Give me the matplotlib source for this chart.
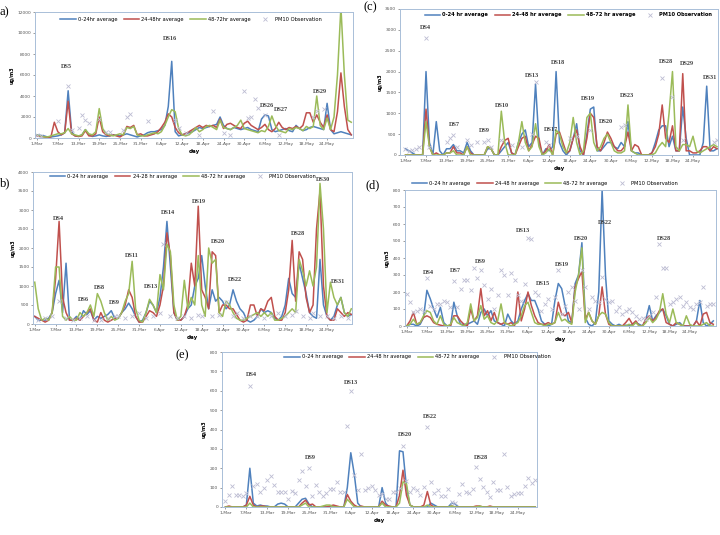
import numpy as np
import matplotlib
matplotlib.use("Agg")
import matplotlib.pyplot as plt

nan = np.nan

tick_pos = list(range(0, 85, 6))
tick_labels = ["1-Mar", "7-Mar", "13-Mar", "19-Mar", "25-Mar", "31-Mar", "6-Apr", "12-Apr",
               "18-Apr", "24-Apr", "30-Apr", "6-May", "12-May", "18-May", "24-May"]

# ---------------- panel a ----------------
blue_a = [300, 250, 200, 100, 100, 150, 200, 300, 500, 4500,
          600, 200, 150, 300, 800, 300, 150, 200, 300, 200,
          150, 200, 300, 250, 200, 300, 400, 300, 200, 100,
          200, 300, 500, 600, 600, 700, 800, 1200, 3000, 7300,
          600, 200, 300, 400, 500, 600, 800, 1000, 900, 1000,
          1100, 1200, 1300, 2000, 1200, 900, 800, 1000, 900, 800,
          900, 1000, 800, 700, 600, 1800, 2200, 2100, 800, 600,
          700, 800, 900, 700, 600, 1200, 900, 700, 800, 1000,
          1100, 1000, 900, 800, 3300, 800, 400, 500, 600, 500,
          400, 300]
red_a = [200, 150, 100, 50, 100, 1500, 600, 300, 500, 3500,
         400, 200, 150, 200, 700, 200, 200, 400, 2000, 600,
         300, 200, 300, 200, 100, 300, 1100, 1000, 1200, 300,
         400, 200, 200, 300, 400, 600, 1000, 1500, 2300, 2000,
         1000, 500, 300, 400, 600, 800, 1000, 1200, 1000, 1200,
         1100, 1200, 1000, 1800, 900, 1300, 1400, 1200, 1000, 900,
         1400, 1600, 1200, 1000, 800, 1000, 1300, 800, 600, 900,
         1500, 1000, 800, 1000, 900, 1100, 900, 1200, 2400, 2400,
         1500, 2200, 1500, 1000, 2200, 800, 600, 2500, 6200, 3000,
         800, 300]
green_a = [300, 200, 100, 100, 200, 300, 400, 400, 500, 900,
           400, 300, 200, 300, 800, 400, 300, 600, 2800, 900,
           400, 300, 200, 300, 400, 300, 1000, 900, 1100, 300,
           200, 200, 300, 400, 500, 400, 600, 1200, 2000, 2700,
           2500, 900, 300, 200, 300, 600, 1000, 600, 800, 1100,
           1200, 1000, 800, 1700, 1000, 900, 800, 1000, 1200, 1700,
           900, 800, 700, 600, 500, 700, 600, 1100, 2100, 1200,
           700, 600, 500, 900, 800, 1000, 900, 700, 1100, 900,
           1100, 4000, 1200, 800, 1900, 800, 2000, 6000, 12500, 6000,
           1700, 1500]
obs_a = [300, 200, nan, nan, nan, nan, 1600, nan, nan, 5000,
         800, nan, 1000, 2200, 1700, 1400, nan, nan, 1800, nan,
         600, 600, nan, nan, nan, 800, 2000, 2300, nan, nan,
         nan, nan, 1600, nan, nan, nan, nan, nan, nan, nan,
         1700, 1000, nan, 500, nan, nan, nan, 300, nan, nan,
         nan, 2600, nan, nan, 500, nan, 300, nan, nan, nan,
         4500, 1900, 2000, 3700, 2900, nan, 2200, nan, nan, nan,
         300, nan, nan, nan, nan, nan, nan, nan, nan, nan,
         2000, 2600, nan, 2800, nan, nan, nan, nan, nan, nan,
         nan, nan]
ds_a = [("DS5", 8.5, 6800), ("DS16", 38.5, 9500), ("DS26", 66.5, 3100),
        ("DS27", 70.5, 2750), ("DS29", 82, 4400)]

# ---------------- panel b ----------------
blue_b = [200, 100, 100, 100, 150, 300, 800, 1150, 300, 1600,
          100, 100, 200, 100, 350, 250, 350, 100, 200, 150,
          200, 250, 350, 150, 150, 300, 400, 550, 400, 200,
          50, 100, 300, 600, 500, 300, 700, 1500, 2700, 1500,
          300, 100, 100, 200, 400, 500, 1000, 1200, 1800, 1000,
          400, 900, 600, 700, 600, 400, 500, 900, 600, 400,
          300, 100, 50, 100, 200, 400, 300, 350, 300, 150,
          100, 200, 500, 1200, 800, 700, 1600, 1200, 800, 300,
          200, 150, 1700, 500, 200, 100, 200, 500, 700, 300,
          200, 250]
red_b = [200, 150, 100, 50, 100, 300, 1200, 2700, 700, 300,
         100, 100, 150, 100, 200, 300, 400, 100, 50, 300,
         100, 50, 100, 150, 150, 300, 500, 900, 700, 200,
         50, 50, 200, 350, 300, 200, 500, 1000, 2400, 1800,
         300, 100, 100, 200, 500, 1600, 1000, 3100, 900, 700,
         400, 1900, 1800, 300, 500, 500, 400, 400, 250, 100,
         50, 100, 500, 500, 200, 400, 350, 600, 700, 200,
         100, 100, 300, 900, 2200, 600, 1900, 1700, 700, 300,
         500, 2500, 3500, 1000, 200, 100, 100, 400, 300, 200,
         300, 250]
green_b = [1100, 400, 100, 150, 100, 300, 1500, 1500, 200, 100,
           200, 100, 100, 300, 200, 300, 500, 200, 800, 600,
           300, 100, 200, 100, 150, 300, 600, 800, 1650, 400,
           100, 50, 300, 650, 500, 300, 1300, 900, 2100, 1900,
           500, 100, 200, 1150, 400, 700, 500, 1800, 500, 200,
           2000, 1600, 1700, 300, 200, 600, 500, 300, 150, 100,
           100, 150, 200, 250, 300, 200, 300, 200, 300, 100,
           100, 150, 200, 300, 400, 300, 1700, 1400, 1000, 1400,
           1000, 1500, 3700, 2500, 300, 1100, 700, 500, 700, 300,
           200, 400]
obs_b = [nan, 100, nan, 150, nan, 200, nan, 600, nan, 150,
         nan, 100, nan, 150, nan, 200, nan, 100, nan, 100,
         nan, 150, nan, 200, 200, nan, 150, nan, 200, nan,
         300, nan, 150, nan, 200, nan, 300, 2100, nan, 200,
         nan, 150, nan, 200, nan, 150, nan, 250, 200, nan,
         nan, 200, nan, 250, nan, 590, nan, 200, 300, nan,
         150, nan, 200, nan, 200, nan, 150, nan, 200, nan,
         300, nan, 200, nan, 250, 350, nan, 200, nan, 150,
         300, nan, 200, nan, 200, nan, 150, nan, 200, nan,
         150, nan]
ds_b = [("DS4", 6.7, 2780), ("DS6", 14, 650), ("DS8", 18.5, 960), ("DS9", 22.8, 560),
        ("DS11", 28, 1790), ("DS13", 33.3, 980), ("DS14", 38.4, 2930), ("DS19", 47.2, 3220),
        ("DS20", 52.8, 2170), ("DS22", 57.7, 1160), ("DS28", 75.8, 2390), ("DS30", 82.8, 3810),
        ("DS31", 87.2, 1110)]

# ---------------- panel c ----------------
blue_c = [150, 100, 50, 0, 0, 0, 2000, 300, 0, 800,
          100, 0, 150, 150, 250, 100, 100, 50, 300, 100,
          0, 0, 0, 0, 150, 150, 0, 0, 100, 200,
          300, 50, 0, 300, 500, 600, 200, 300, 1700, 300,
          0, 150, 100, 200, 2000, 300, 100, 0, 100, 400,
          750, 100, 0, 500, 1100, 1150, 100, 100, 200, 300,
          300, 200, 150, 300, 200, 800, 100, 50, 50, 0,
          0, 0, 50, 300, 600, 700, 700, 200, 450, 100,
          100, 1150, 400, 0, 0, 0, 0, 300, 1650, 100,
          100, 150]
red_c = [0, 0, 0, 0, 0, 0, 1100, 200, 0, 50,
         0, 0, 50, 50, 200, 50, 50, 0, 200, 50,
         0, 0, 0, 0, 200, 150, 0, 0, 200, 350,
         400, 50, 0, 200, 400, 450, 100, 250, 450, 400,
         0, 100, 250, 0, 500, 550, 300, 50, 100, 400,
         600, 200, 0, 400, 1000, 900, 200, 100, 300, 550,
         400, 200, 100, 100, 200, 550, 100, 250, 200, 0,
         0, 0, 50, 200, 500, 1200, 400, 300, 700, 100,
         100, 1950, 100, 100, 50, 50, 100, 200, 200, 100,
         200, 150]
green_c = [0, 0, 0, 0, 0, 0, 800, 200, 0, 0,
           0, 0, 50, 50, 100, 0, 0, 0, 200, 0,
           0, 0, 0, 0, 200, 150, 0, 0, 1050, 300,
           0, 0, 0, 300, 800, 300, 100, 200, 750, 200,
           0, 50, 150, 0, 600, 500, 200, 50, 300, 900,
           300, 0, 100, 900, 1000, 300, 100, 200, 400, 500,
           300, 100, 50, 50, 100, 1200, 100, 50, 0, 0,
           0, 0, 0, 50, 200, 300, 200, 1000, 2000, 200,
           100, 250, 250, 200, 450, 100, 50, 100, 150, 200,
           250, 200]
obs_c = [150, 100, 120, 150, 180, nan, 2800, 200, nan, nan,
         nan, nan, 300, 400, 480, 200, nan, nan, 350, 250,
         nan, 300, nan, 300, 350, 200, nan, nan, 350, nan,
         nan, 250, nan, nan, 200, nan, nan, 500, 1750, nan,
         nan, 300, 250, nan, nan, nan, nan, nan, 400, nan,
         450, nan, nan, nan, 600, nan, nan, nan, nan, nan,
         nan, nan, nan, 680, 720, nan, nan, nan, nan, nan,
         nan, nan, nan, nan, nan, 1840, nan, nan, 1400, nan,
         nan, 350, nan, nan, nan, nan, nan, nan, nan, nan,
         300, 350]
ds_c = [("DS4", 5.8, 3050), ("DS7", 14.2, 720), ("DS9", 23.2, 580), ("DS10", 28.3, 1190),
        ("DS13", 37.1, 1900), ("DS17", 42.5, 620), ("DS18", 44.6, 2220), ("DS19", 53.3, 1350),
        ("DS20", 58.6, 800), ("DS23", 64.7, 1420), ("DS28", 76.2, 2240), ("DS29", 82.3, 2200),
        ("DS31", 88.9, 1860)]

# ---------------- panel d ----------------
blue_d = [0, 10, 10, 0, 10, 50, 210, 160, 100, 50,
          110, 20, 0, 0, 140, 60, 10, 10, 10, 20,
          30, 10, 80, 100, 60, 90, 30, 20, 10, 0,
          70, 30, 10, 30, 100, 150, 190, 150, 150, 100,
          30, 10, 0, 10, 150, 250, 220, 120, 30, 20,
          250, 300, 490, 50, 10, 0, 20, 200, 800, 300,
          30, 10, 0, 10, 0, 5, 0, 10, 20, 10,
          0, 40, 120, 30, 60, 80, 100, 60, 10, 0,
          10, 20, 0, 0, 0, 0, 30, 150, 20, 0,
          10, 30]
red_d = [0, 30, 80, 10, 20, 50, 60, 50, 20, 10,
         5, 0, 0, 0, 60, 60, 30, 10, 0, 100,
         30, 60, 220, 60, 90, 30, 80, 20, 10, 20,
         10, 20, 0, 200, 30, 100, 200, 120, 60, 20,
         10, 10, 20, 10, 20, 140, 70, 60, 80, 20,
         230, 280, 320, 40, 80, 30, 10, 60, 230, 70,
         10, 0, 0, 0, 0, 20, 45, 10, 30, 0,
         0, 40, 60, 30, 50, 90, 100, 20, 10, 0,
         20, 10, 0, 0, 0, 0, 30, 0, 70, 80,
         20, 10]
green_d = [0, 10, 40, 10, 20, 60, 90, 80, 30, 10,
           60, 10, 0, 10, 50, 20, 10, 0, 20, 130,
           30, 50, 120, 40, 60, 20, 10, 30, 130, 20,
           10, 0, 10, 20, 60, 120, 140, 80, 20, 10,
           10, 0, 10, 10, 20, 80, 30, 40, 20, 10,
           200, 300, 460, 20, 80, 30, 10, 60, 80, 70,
           20, 0, 0, 0, 0, 0, 10, 0, 20, 0,
           0, 20, 50, 20, 40, 80, 190, 70, 20, 100,
           20, 10, 0, 60, 10, 0, 0, 0, 10, 20,
           0, 0]
obs_d = [190, 140, 80, 90, 100, 90, 280, 120, 100, 130,
         130, 150, 140, 110, 265, 110, 215, 270, 270, 210,
         340, 280, 330, 240, 160, 220, 100, 180, 330, 300,
         180, 310, 270, 180, 150, 250, 520, 510, 200, 180,
         90, 130, 160, 100, 170, 330, 70, 120, 200, 230,
         150, 100, 330, 230, 100, 170, 150, 140, 290, 160,
         140, 150, 90, 110, 70, 90, 100, 80, 60, 40,
         50, 40, 60, 80, 170, 480, 340, 340, 130, 140,
         160, 170, 120, 140, 110, 100, 130, 140, 230, 120,
         130, 130]
ds_d = [("DS4", 6.5, 315), ("DS7", 14.5, 328), ("DS9", 22, 377), ("DS13", 34.5, 564),
        ("DS15", 40.3, 250), ("DS19", 46, 363), ("DS20", 51.6, 515), ("DS22", 58.8, 609),
        ("DS28", 76.3, 515)]

# ---------------- panel e ----------------
blue_e = [0, 0, 0, 0, 0, 0, 10, 200, 20, 5,
          10, 5, 5, 0, 0, 15, 20, 15, 0, 0,
          0, 20, 40, 45, 15, 0, 0, 0, 0, 0,
          0, 0, 0, 0, 0, 100, 280, 170, 20, 0,
          0, 0, 0, 0, 0, 100, 20, 0, 0, 0,
          290, 285, 100, 10, 0, 0, 0, 0, 0, 20,
          10, 0, 0, 0, 0, 20, 15, 0, 0, 0,
          0, 0, 0, 0, 0, 0, 0, 0, 0, 0,
          0, 0, 0, 0, 0, 0, 0, 0, 0, 0]
red_e = [0, 5, 0, 0, 0, 0, 10, 55, 10, 0,
         5, 5, 0, 0, 0, 0, 0, 0, 0, 0,
         0, 0, 20, 35, 10, 15, 0, 0, 0, 0,
         5, 10, 5, 0, 0, 65, 30, 10, 0, 5,
         0, 0, 0, 0, 0, 30, 10, 5, 0, 0,
         60, 190, 60, 10, 0, 0, 0, 10, 80, 10,
         0, 0, 0, 0, 0, 5, 0, 0, 0, 0,
         0, 0, 5, 5, 0, 0, 5, 0, 0, 0,
         0, 0, 0, 0, 0, 0, 0, 0, 0, 0]
green_e = [0, 0, 0, 0, 0, 0, 0, 20, 0, 0,
           0, 0, 0, 0, 0, 0, 0, 0, 0, 0,
           0, 0, 10, 20, 0, 0, 0, 0, 5, 10,
           10, 0, 0, 0, 0, 40, 20, 0, 0, 0,
           0, 0, 0, 0, 0, 20, 0, 0, 0, 0,
           20, 130, 120, 10, 0, 0, 0, 0, 10, 0,
           0, 0, 0, 0, 0, 5, 0, 0, 0, 0,
           0, 0, 0, 5, 0, 0, 0, 0, 0, 0,
           0, 0, 0, 0, 0, 0, 0, 0, 0, 0]
obs_e = [30, 60, 110, 60, 60, 55, 70, 625, 110, 120,
         80, 100, 140, 160, 115, 80, 80, 80, 40, 85,
         70, 140, 185, 110, 200, 55, 115, 80, 55, 70,
         95, 95, 130, 80, 80, 420, 600, 165, 90, 275,
         90, 100, 110, 90, 60, 65, 40, 40, 80, 75,
         100, 315, 135, 75, 100, 90, 60, 105, 415, 130,
         70, 90, 55, 55, 95, 25, 20, 65, 120, 80,
         70, 95, 205, 145, 105, 80, 50, 130, 90, 90,
         275, 105, 55, 65, 70, 70, 110, 150, 125, 140]
ds_e = [("DS4", 7.5, 683), ("DS13", 36, 642), ("DS9", 24.5, 258), ("DS20", 51.5, 375),
        ("DS22", 58.8, 468), ("DS28", 73.5, 258)]

C_BLUE = "#4F81BD"
C_RED = "#C0504D"
C_GREEN = "#9BBB59"
C_OBS = "#BCBCD2"
C_FRAME = "#A9BED8"

fig = plt.figure(figsize=(7.2, 5.35), dpi=100)


def px_axes(left, top, right, bottom):
    return fig.add_axes([left / 720, (535 - bottom) / 535, (right - left) / 720, (bottom - top) / 535])


def panel(ax, blue, red, green, obs, ymax, ystep, ds, names, leg_xy, xlim, leg_bold=False):
    x = np.arange(len(blue))
    ax.plot(x, blue, color=C_BLUE, lw=1.1, label=names[0])
    ax.plot(x, red, color=C_RED, lw=1.1, label=names[1])
    ax.plot(x, green, color=C_GREEN, lw=1.1, label=names[2])
    ax.plot(np.arange(len(obs)), obs, ls="none", marker="x", ms=3, mew=0.6,
            color=C_OBS, label="PM10 Observation")
    ax.set_xlim(*xlim)
    ax.set_ylim(0, ymax)
    ax.set_yticks(np.arange(0, ymax + 1, ystep))
    ax.set_xticks(tick_pos)
    ax.set_xticklabels(tick_labels)
    ax.tick_params(labelsize=3.2, length=1.2, width=0.4, colors="#555555", pad=1.5)
    for s in ax.spines.values():
        s.set_color(C_FRAME)
        s.set_linewidth(0.7)
    ax.set_ylabel("ug/m3", fontsize=3.6, fontweight="bold", labelpad=2)
    ax.set_xlabel("day", fontsize=4, fontweight="bold", labelpad=2)
    for name, dx, dy in ds:
        ax.text(dx, dy, name, fontsize=4.5, fontweight="bold", family="Liberation Serif",
                color="#404040", ha="center", va="center")
    leg = ax.legend(loc="center", bbox_to_anchor=leg_xy, ncol=4, frameon=False,
                    handlelength=3.0, columnspacing=1.3, handletextpad=0.4,
                    prop={"size": 3.7, "weight": "bold" if leg_bold else "normal"})
    return leg


names_std = ["0-24 hr average", "24-48 hr average", "48-72 hr average"]

ax_a = px_axes(35, 12, 353, 138)
panel(ax_a, blue_a, red_a, green_a, obs_a, 12000, 2000, ds_a,
      ["0-24hr average", "24-48hr average", "48-72hr average"], (0.49, 0.944), (-0.6, 91.5))

ax_b = px_axes(33, 172, 352, 324)
panel(ax_b, blue_b, red_b, green_b, obs_b, 4000, 500, ds_b,
      ["0-24 hr average", "24-28 hr average", "48-72 hr average"], (0.47, 0.972), (-0.5, 91.2))

ax_c = px_axes(400, 9, 718, 155)
panel(ax_c, blue_c, red_c, green_c, obs_c, 3500, 500, ds_c, names_std, (0.53, 0.959),
      (-1.6, 91.3), leg_bold=True)

ax_d = px_axes(405, 190, 716, 326)
panel(ax_d, blue_d, red_d, green_d, obs_d, 800, 100, ds_d, names_std, (0.45, 1.05), (-0.5, 91.8))

ax_e = px_axes(222, 352, 537, 507)
panel(ax_e, blue_e, red_e, green_e, obs_e, 800, 100, ds_e, names_std, (0.62, 0.968), (-1.0, 89.5))

for lbl, x, y in [("a)", 0, 12), ("b)", 0, 183), ("(c)", 363, 7), ("(d)", 366, 185), ("(e)", 176, 355)]:
    fig.text(x / 720, 1 - y / 535, lbl, fontsize=9, family="Liberation Serif", va="center", ha="left")

fig.savefig("out.png", dpi=100)
